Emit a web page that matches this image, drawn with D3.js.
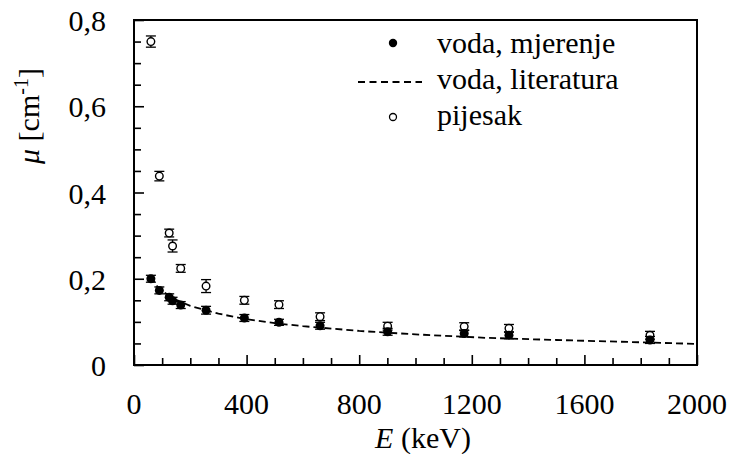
<!DOCTYPE html>
<html>
<head>
<meta charset="utf-8">
<script src="https://cdn.jsdelivr.net/npm/d3@7"></script>
</head>
<body style="margin:0">
<script>
// measured attenuation in water
const waterE = [60, 90, 125, 137, 166, 256, 392, 515, 661, 901, 1173, 1332, 1833];
const waterMu = [0.200, 0.173, 0.157, 0.149, 0.139, 0.127, 0.109, 0.099, 0.091, 0.077, 0.073, 0.069, 0.058];
const waterErr = [0.008, 0.008, 0.008, 0.008, 0.008, 0.009, 0.008, 0.007, 0.008, 0.008, 0.008, 0.008, 0.008];

// sand
const sandE = [60, 90, 125, 137, 166, 256, 392, 515, 661, 901, 1173, 1332, 1833];
const sandMu = [0.750, 0.438, 0.306, 0.276, 0.224, 0.183, 0.150, 0.140, 0.112, 0.090, 0.089, 0.085, 0.069];
const sandErr = [0.013, 0.011, 0.009, 0.014, 0.009, 0.015, 0.009, 0.009, 0.009, 0.009, 0.009, 0.009, 0.009];

// literature curve for water
const litE = [60, 80, 100, 150, 200, 300, 400, 500, 600, 800, 1000, 1250, 1500, 2000];
const litMu = [0.206, 0.184, 0.171, 0.151, 0.137, 0.119, 0.106, 0.097, 0.090, 0.079, 0.071, 0.063, 0.058, 0.049];

const xMajor = [0, 400, 800, 1200, 1600, 2000];
const yMajor = [0, 0.2, 0.4, 0.6, 0.8];
const legendItems = ['voda, mjerenje', 'voda, literatura', 'pijesak'];

const W = 730, H = 454;
const m = { left: 134, right: 33, top: 20, bottom: 89 };

const svg = d3.select('body').append('svg')
  .attr('width', W)
  .attr('height', H);

const x = d3.scaleLinear().domain([0, 2000]).range([m.left, W - m.right]);
const y = d3.scaleLinear().domain([0, 0.8]).range([H - m.bottom, m.top]);

// text helper
function label(parent, str, size) {
  return parent.append('text')
    .attr('font-family', 'Liberation Serif')
    .style('font-family', "'Liberation Serif'")
    .attr('font-size', size)
    .attr('fill', '#000')
    .text(str);
}

// inward ticks
const xAxis = d3.axisTop(x).tickValues(d3.range(0, 2001, 100)).tickFormat('')
  .tickSize(7).tickSizeOuter(0);
const gx = svg.append('g').attr('transform', `translate(0,${y(0)})`).call(xAxis);
gx.selectAll('.tick line').attr('y2', d => (d % 400 === 0 ? -10 : -7));

const yAxis = d3.axisRight(y).tickValues(d3.range(0, 0.8001, 0.05)).tickFormat('')
  .tickSize(7).tickSizeOuter(0);
const gy = svg.append('g').attr('transform', `translate(${x(0)},0)`).call(yAxis);
gy.selectAll('.tick line').attr('x2', (d, i) => (i % 4 === 0 ? 10 : 7));

gx.select('.domain').remove();
gy.select('.domain').remove();
svg.selectAll('.tick line').attr('stroke', '#000').attr('stroke-width', 1.6);

// frame
svg.append('rect')
  .attr('x', x(0)).attr('y', y(0.8))
  .attr('width', x(2000) - x(0)).attr('height', y(0) - y(0.8))
  .attr('fill', 'none').attr('stroke', '#000').attr('stroke-width', 2);

// tick labels
xMajor.forEach(v => {
  label(svg, String(v), 30)
    .attr('x', x(v)).attr('y', 414)
    .attr('text-anchor', 'middle');
});

yMajor.forEach(v => {
  label(svg, v === 0 ? '0' : d3.format('.1f')(v).replace('.', ','), 30)
    .attr('x', 106).attr('y', y(v) + 11)
    .attr('text-anchor', 'end');
});

// axis titles
const xt = label(svg, '', 30).attr('x', 423).attr('y', 448).attr('text-anchor', 'middle');
xt.append('tspan').attr('font-style', 'italic').text('E');
xt.append('tspan').text(' (keV)');

const yt = label(svg, '', 30)
  .attr('transform', 'translate(39,116) rotate(-90)')
  .attr('text-anchor', 'middle');
yt.append('tspan').attr('font-style', 'italic').text('μ');
yt.append('tspan').text(' [cm');
yt.append('tspan').attr('font-size', 20).attr('dy', -11).text('-1');
yt.append('tspan').attr('dy', 11).text(']');

// literature line
const line = d3.line().x((d, i) => x(litE[i])).y(d => y(d));
svg.append('path').datum(litMu)
  .attr('d', line)
  .attr('fill', 'none').attr('stroke', '#000')
  .attr('stroke-width', 1.8).attr('stroke-dasharray', '7,4');

function errorBars(es, mus, errs) {
  const g = svg.append('g').attr('stroke', '#000').attr('stroke-width', 1.3);
  es.forEach((e, i) => {
    const cx = x(e), y1 = y(mus[i] - errs[i]), y2 = y(mus[i] + errs[i]);
    g.append('line').attr('x1', cx).attr('x2', cx).attr('y1', y1).attr('y2', y2);
    g.append('line').attr('x1', cx - 5).attr('x2', cx + 5).attr('y1', y1).attr('y2', y1);
    g.append('line').attr('x1', cx - 5).attr('x2', cx + 5).attr('y1', y2).attr('y2', y2);
  });
}

errorBars(sandE, sandMu, sandErr);
svg.append('g').selectAll('circle').data(sandMu).enter().append('circle')
  .attr('cx', (d, i) => x(sandE[i])).attr('cy', d => y(d))
  .attr('r', 3.8).attr('fill', '#fff').attr('stroke', '#000').attr('stroke-width', 1.4);

errorBars(waterE, waterMu, waterErr);
svg.append('g').selectAll('circle').data(waterMu).enter().append('circle')
  .attr('cx', (d, i) => x(waterE[i])).attr('cy', d => y(d))
  .attr('r', 4.5).attr('fill', '#000');

// legend
svg.append('circle').attr('cx', 393).attr('cy', 43).attr('r', 4.2).attr('fill', '#000');
svg.append('line').attr('x1', 358).attr('x2', 422).attr('y1', 82).attr('y2', 82)
  .attr('stroke', '#000').attr('stroke-width', 1.8).attr('stroke-dasharray', '7,4.5');
svg.append('circle').attr('cx', 393).attr('cy', 117).attr('r', 3.5)
  .attr('fill', '#fff').attr('stroke', '#000').attr('stroke-width', 1.3);
legendItems.forEach((d, i) => {
  label(svg, d, 30).attr('x', 437).attr('y', 53 + i * 36);
});
</script>
</body>
</html>
